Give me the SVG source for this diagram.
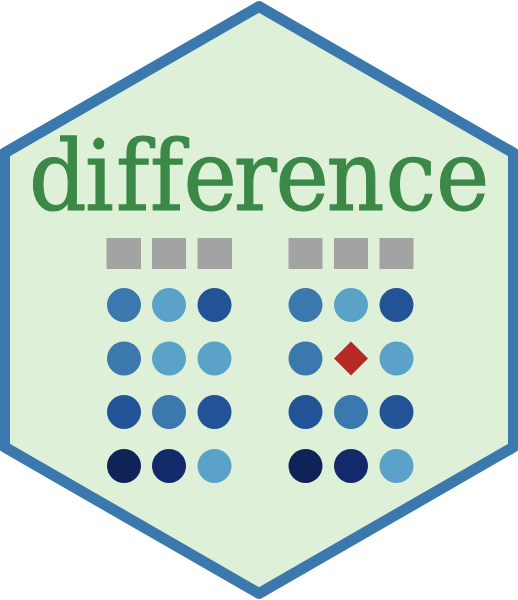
<svg xmlns="http://www.w3.org/2000/svg" width="518" height="600" viewBox="0 0 518 600">
<style>
.h{fill:#a3a3a3}
.a{fill:#3b78ae}.b{fill:#5aa2c8}.c{fill:#235397}.d{fill:#102359}.e{fill:#12296a}
text{font-family:"DejaVu Serif",serif;font-size:98px;fill:#3b8847;stroke:#3b8847;stroke-width:1.2;font-variant-ligatures:none}
</style>
<polygon points="259,6.500 513.500,153 513.500,447 259,593.500 4.500,447 4.500,153" fill="#dff0d8" stroke="#3b78ae" stroke-width="11" stroke-linejoin="round"/>
<g id="title"><text transform="translate(0 210) scale(.92 1)" x="31.500 92.400 126 163 199.500 254 299.500 355 419 474">difference</text></g>
<g id="left">
<rect class="h" x="106.500" y="238" width="34.500" height="31"/><rect class="h" x="152" y="238" width="34" height="31"/><rect class="h" x="197.500" y="238" width="34.500" height="31"/>
<circle class="a" cx="124" cy="305" r="17"/><circle class="b" cx="169" cy="305" r="17"/><circle class="c" cx="214.500" cy="305" r="17"/>
<circle class="a" cx="124" cy="358.500" r="17"/><circle class="b" cx="169" cy="358.500" r="17"/><circle class="b" cx="214.500" cy="358.500" r="17"/>
<circle class="c" cx="124" cy="412" r="17"/><circle class="a" cx="169" cy="412" r="17"/><circle class="c" cx="214.500" cy="412" r="17"/>
<circle class="d" cx="124" cy="466" r="17"/><circle class="e" cx="169" cy="466" r="17"/><circle class="b" cx="214.500" cy="466" r="17"/>
</g>
<g id="right">
<rect class="h" x="288.500" y="238" width="34" height="31"/><rect class="h" x="334" y="238" width="34" height="31"/><rect class="h" x="379.500" y="238" width="34" height="31"/>
<circle class="a" cx="305.500" cy="305" r="17"/><circle class="b" cx="351" cy="305" r="17"/><circle class="c" cx="396.500" cy="305" r="17"/>
<circle class="a" cx="305.500" cy="358.500" r="17"/><polygon points="351,341.500 368,358.500 351,375.500 334,358.500" fill="#b32b22"/><circle class="b" cx="396.500" cy="358.500" r="17"/>
<circle class="c" cx="305.500" cy="412" r="17"/><circle class="a" cx="351" cy="412" r="17"/><circle class="c" cx="396.500" cy="412" r="17"/>
<circle class="d" cx="305.500" cy="466" r="17"/><circle class="e" cx="351" cy="466" r="17"/><circle class="b" cx="396.500" cy="466" r="17"/>
</g>
</svg>
